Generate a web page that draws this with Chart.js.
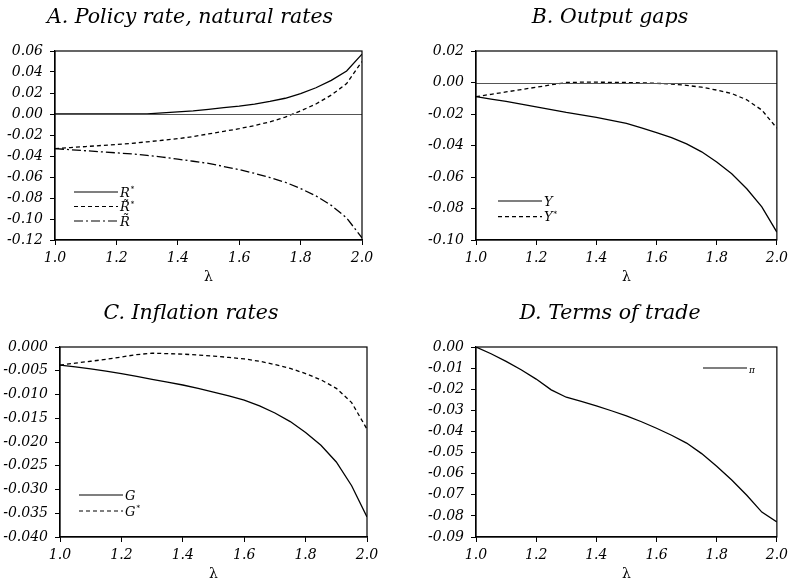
<!DOCTYPE html>
<html>
<head>
<meta charset="utf-8">
<script src="https://cdn.jsdelivr.net/npm/chart.js@4.4.0/dist/chart.umd.min.js"></script>
<style>
  html, body { margin: 0; padding: 0; background: #fff; overflow: hidden; }
  body { width: 793px; height: 581px; position: relative; }
  canvas { position: absolute; }
</style>
</head>
<body>
<canvas id="panelA" style="left:0px;top:0px"></canvas>
<canvas id="panelB" style="left:400px;top:0px"></canvas>
<canvas id="panelC" style="left:0px;top:290px"></canvas>
<canvas id="panelD" style="left:400px;top:290px"></canvas>
<script>
// lambda grid
const lambda = [1.00, 1.05, 1.10, 1.15, 1.20, 1.25, 1.30, 1.35, 1.40, 1.45, 1.50,
                1.55, 1.60, 1.65, 1.70, 1.75, 1.80, 1.85, 1.90, 1.95, 2.00];
const xTicks = [1.0, 1.2, 1.4, 1.6, 1.8, 2.0];

// A. policy rate, natural rates
const rStar = [0, 0, 0, 0, 0, 0, 0.0002, 0.001, 0.002, 0.003, 0.0045,
               0.006, 0.0075, 0.0095, 0.012, 0.015, 0.0195, 0.025, 0.032, 0.041, 0.057];
const rTildeStar = [-0.033, -0.032, -0.031, -0.030, -0.029, -0.028, -0.0265, -0.025, -0.0235, -0.0215, -0.019,
                    -0.0165, -0.014, -0.011, -0.0075, -0.003, 0.003, 0.0095, 0.018, 0.029, 0.050];
const rTilde = [-0.033, -0.034, -0.035, -0.036, -0.037, -0.038, -0.0395, -0.041, -0.043, -0.045, -0.047,
                -0.050, -0.053, -0.0565, -0.0605, -0.065, -0.071, -0.078, -0.087, -0.099, -0.118];

// B. output gaps
const yGap = [-0.009, -0.0105, -0.012, -0.0138, -0.0155, -0.0172, -0.019, -0.0205, -0.0222, -0.024, -0.026,
              -0.0288, -0.0318, -0.035, -0.039, -0.044, -0.0505, -0.058, -0.0675, -0.079, -0.095];
const yGapStar = [-0.009, -0.0075, -0.006, -0.0045, -0.003, -0.0015, 0.0, 0.0002, 0.0002, 0.0001, 0.0,
                  -0.0002, -0.0005, -0.001, -0.0018, -0.003, -0.0048, -0.007, -0.011, -0.0175, -0.029];

// C. inflation rates
const gRate = [-0.0038, -0.0042, -0.0046, -0.0051, -0.0056, -0.0062, -0.0068, -0.0074, -0.008, -0.0087, -0.0095,
               -0.0103, -0.0112, -0.0124, -0.0139, -0.0157, -0.018, -0.0207, -0.0242, -0.0292, -0.0358];
const gRateStar = [-0.0038, -0.0034, -0.003, -0.0026, -0.0021, -0.0016, -0.0013, -0.0014, -0.0015, -0.0017, -0.0019,
                   -0.0022, -0.0025, -0.003, -0.0037, -0.0045, -0.0056, -0.0069, -0.0087, -0.0117, -0.0173];

// D. terms of trade
const tot = [0, -0.0032, -0.0068, -0.0108, -0.0152, -0.0203, -0.0238, -0.0258, -0.0279, -0.0302, -0.0326,
             -0.0354, -0.0385, -0.0418, -0.0455, -0.0505, -0.0565, -0.063, -0.0702, -0.0782, -0.0829];

// y tick labels per panel
const yTicksA = [0.06, 0.04, 0.02, 0.00, -0.02, -0.04, -0.06, -0.08, -0.10, -0.12];
const yTicksB = [0.02, 0.00, -0.02, -0.04, -0.06, -0.08, -0.10];
const yTicksC = [0.000, -0.005, -0.010, -0.015, -0.020, -0.025, -0.030, -0.035, -0.040];
const yTicksD = [0.00, -0.01, -0.02, -0.03, -0.04, -0.05, -0.06, -0.07, -0.08, -0.09];

const SERIF = "'DejaVu Serif', serif";
const SOLID = [];
const DASH = [4, 3];
const DASHDOT = [9, 3, 2, 3];

Chart.defaults.font.family = SERIF;
Chart.defaults.font.style = "italic";
Chart.defaults.font.size = 14;
Chart.defaults.color = "#000";

function pts(ys) {
  return lambda.map((x, i) => ({ x: x, y: ys[i] }));
}

function fmt(v, d) {
  if (Math.abs(v) < 1e-9) v = 0;
  return v.toFixed(d);
}

// title, frame, zero line and in-plot legend
const panelDeco = {
  id: "panelDeco",
  afterDraw(chart, args, opts) {
    const ctx = chart.ctx;
    const a = chart.chartArea;
    ctx.save();

    if (opts.zeroLine) {
      const y0 = Math.round(chart.scales.y.getPixelForValue(0)) + 0.5;
      ctx.strokeStyle = "#555";
      ctx.lineWidth = 1;
      ctx.beginPath();
      ctx.moveTo(a.left, y0);
      ctx.lineTo(a.right, y0);
      ctx.stroke();
    }

    ctx.strokeStyle = "#000";
    ctx.lineWidth = 1.2;
    ctx.strokeRect(a.left, a.top, a.right - a.left, a.bottom - a.top);

    ctx.fillStyle = "#000";
    ctx.font = "italic 20.5px " + SERIF;
    ctx.textAlign = "center";
    ctx.textBaseline = "alphabetic";
    ctx.fillText(opts.title, opts.titleX, a.top - 28);

    const lg = opts.legend;
    lg.items.forEach((it, i) => {
      const x = a.left + lg.x;
      const y = a.top + lg.y + i * lg.gap;
      ctx.strokeStyle = "#000";
      ctx.lineWidth = 1.2;
      ctx.setLineDash(it.dash);
      ctx.beginPath();
      ctx.moveTo(x, y);
      ctx.lineTo(x + lg.len, y);
      ctx.stroke();
      ctx.setLineDash([]);
      ctx.textAlign = "left";
      ctx.font = "italic " + (it.size || 13) + "px " + SERIF;
      ctx.fillText(it.text, x + lg.len + 2, y + 4.5);
      if (it.sup) {
        const w = ctx.measureText(it.text).width;
        ctx.font = "7px " + SERIF;
        ctx.fillText(it.sup, x + lg.len + 3 + w, y - 1);
      }
    });
    ctx.restore();
  }
};

function makePanel(id, w, h, cfg) {
  const el = document.getElementById(id);
  el.style.width = w + "px";
  el.style.height = h + "px";
  el.width = w;
  el.height = h;
  const tickFont = { family: SERIF, size: 14, style: "italic", weight: "normal" };
  return new Chart(el, {
    type: "line",
    data: {
      datasets: cfg.series.map(s => ({
        data: pts(s.values),
        borderColor: "#000",
        borderWidth: 1.3,
        borderDash: s.dash,
        pointRadius: 0,
        fill: false,
        tension: 0
      }))
    },
    options: {
      responsive: false,
      animation: false,
      events: [],
      layout: { padding: { left: 0, right: cfg.padRight, top: cfg.padTop, bottom: 0 } },
      plugins: {
        legend: { display: false },
        tooltip: { enabled: false },
        panelDeco: cfg.deco
      },
      scales: {
        x: {
          type: "linear",
          min: 1, max: 2,
          afterFit(scale) { scale.height = 50; },
          afterBuildTicks(scale) { scale.ticks = xTicks.map(v => ({ value: v })); },
          grid: { drawOnChartArea: false, drawTicks: true, tickLength: 5, color: "#000", lineWidth: 1 },
          border: { display: true, color: "#000", width: 1.2 },
          ticks: {
            color: "#000",
            padding: 5,
            maxRotation: 0,
            font: tickFont,
            callback: v => fmt(v, 1)
          },
          title: {
            display: true,
            text: "λ",
            color: "#000",
            padding: { top: 0, bottom: 4 },
            font: { family: SERIF, size: 14, style: "normal" }
          }
        },
        y: {
          min: cfg.yMin, max: cfg.yMax,
          afterFit(scale) { scale.width = cfg.yWidth; },
          afterBuildTicks(scale) { scale.ticks = cfg.yTicks.map(v => ({ value: v })); },
          grid: { drawOnChartArea: false, drawTicks: true, tickLength: 5, color: "#000", lineWidth: 1 },
          border: { display: true, color: "#000", width: 1.2 },
          ticks: {
            color: "#000",
            padding: 7,
            font: tickFont,
            callback: v => fmt(v, cfg.decimals)
          }
        }
      }
    },
    plugins: [panelDeco]
  });
}

makePanel("panelA", 400, 290, {
  series: [
    { values: rStar, dash: SOLID },
    { values: rTildeStar, dash: DASH },
    { values: rTilde, dash: DASHDOT }
  ],
  yMin: -0.12, yMax: 0.06, yTicks: yTicksA, decimals: 2,
  yWidth: 55, padRight: 38, padTop: 51,
  deco: {
    title: "A. Policy rate, natural rates", titleX: 190, zeroLine: true,
    legend: { x: 19, y: 141, gap: 14.5, len: 44, items: [
      { text: "R", sup: "*", dash: SOLID },
      { text: "R\u0303", sup: "*", dash: DASH },
      { text: "R\u0303", dash: DASHDOT }
    ] }
  }
});

makePanel("panelB", 393, 290, {
  series: [
    { values: yGap, dash: SOLID },
    { values: yGapStar, dash: DASH }
  ],
  yMin: -0.10, yMax: 0.02, yTicks: yTicksB, decimals: 2,
  yWidth: 76, padRight: 11, padTop: 51,
  deco: {
    title: "B. Output gaps", titleX: 210, zeroLine: true,
    legend: { x: 22, y: 150, gap: 15.6, len: 44, items: [
      { text: "Y", dash: SOLID },
      { text: "Y", sup: "*", dash: DASH }
    ] }
  }
});

makePanel("panelC", 400, 297, {
  series: [
    { values: gRate, dash: SOLID },
    { values: gRateStar, dash: DASH }
  ],
  yMin: -0.04, yMax: 0, yTicks: yTicksC, decimals: 3,
  yWidth: 60, padRight: 33, padTop: 57,
  deco: {
    title: "C. Inflation rates", titleX: 191, zeroLine: false,
    legend: { x: 19, y: 148, gap: 16, len: 44, items: [
      { text: "G", dash: SOLID },
      { text: "G", sup: "*", dash: DASH }
    ] }
  }
});

makePanel("panelD", 393, 297, {
  series: [
    { values: tot, dash: SOLID }
  ],
  yMin: -0.09, yMax: 0, yTicks: yTicksD, decimals: 2,
  yWidth: 76, padRight: 11, padTop: 57,
  deco: {
    title: "D. Terms of trade", titleX: 210, zeroLine: false,
    legend: { x: 227, y: 21, gap: 16, len: 44, items: [
      { text: "π", size: 9, dash: SOLID }
    ] }
  }
});
</script>
</body>
</html>
